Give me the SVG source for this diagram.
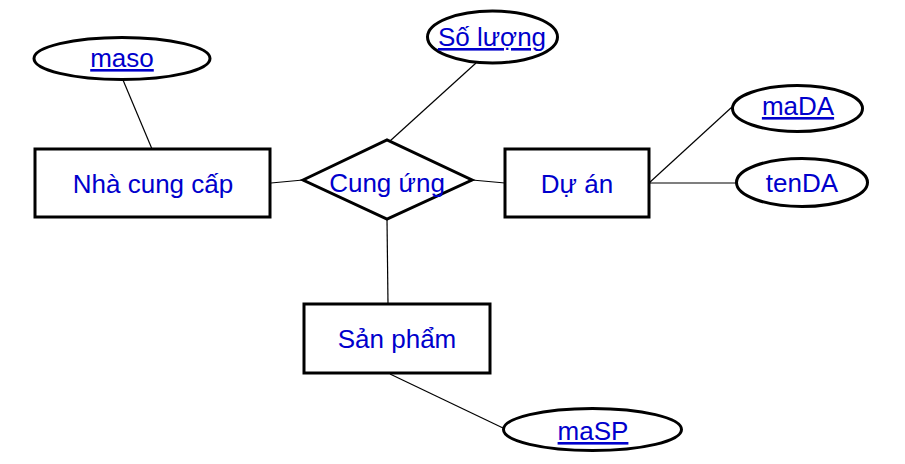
<svg xmlns="http://www.w3.org/2000/svg" width="905" height="464" viewBox="0 0 905 464">
<style>
.shape{fill:#fff;stroke:#000;stroke-width:3}
.ln{stroke:#000;stroke-width:1.2;fill:none}
text{font-family:"Liberation Sans",Arial,sans-serif;font-size:26px;fill:#0000cc;text-anchor:middle}
.u{text-decoration:underline}
</style>
<rect width="905" height="464" fill="#fff"/>
<g id="connectors">
<line class="ln" x1="123" y1="80" x2="152" y2="149"/>
<line class="ln" x1="476" y1="63" x2="390" y2="141"/>
<line class="ln" x1="271" y1="183" x2="303" y2="180"/>
<line class="ln" x1="472" y1="180" x2="505" y2="183"/>
<line class="ln" x1="649" y1="183" x2="732" y2="107"/>
<line class="ln" x1="649" y1="183" x2="736" y2="183"/>
<line class="ln" x1="387" y1="219" x2="388" y2="304"/>
<line class="ln" x1="390" y1="374" x2="503" y2="428"/>
</g>
<g id="maso">
<ellipse class="shape" cx="122" cy="58.5" rx="88" ry="21"/>
<text class="u" x="122" y="67">maso</text>
</g>
<g id="nhacungcap">
<rect class="shape" x="35" y="149" width="235" height="68"/>
<text x="153" y="193">Nhà cung cấp</text>
</g>
<g id="soluong">
<ellipse class="shape" cx="492.5" cy="37" rx="65" ry="26"/>
<text class="u" x="492" y="46">Số lượng</text>
</g>
<g id="cungung">
<polygon class="shape" points="303,180 387,140 472,180 387,219"/>
<text x="387" y="192">Cung ứng</text>
</g>
<g id="duan">
<rect class="shape" x="505" y="149" width="144" height="68"/>
<text x="577" y="193">Dự án</text>
</g>
<g id="maDA">
<ellipse class="shape" cx="797.5" cy="108.5" rx="65" ry="23"/>
<text class="u" x="798" y="115">maDA</text>
</g>
<g id="tenDA">
<ellipse class="shape" cx="802" cy="182.5" rx="65.5" ry="24"/>
<text x="802" y="192">tenDA</text>
</g>
<g id="sanpham">
<rect class="shape" x="304" y="304" width="186" height="69"/>
<text x="397" y="348">Sản phẩm</text>
</g>
<g id="maSP">
<ellipse class="shape" cx="592.5" cy="429.5" rx="89" ry="21"/>
<text class="u" x="593" y="440">maSP</text>
</g>
</svg>
